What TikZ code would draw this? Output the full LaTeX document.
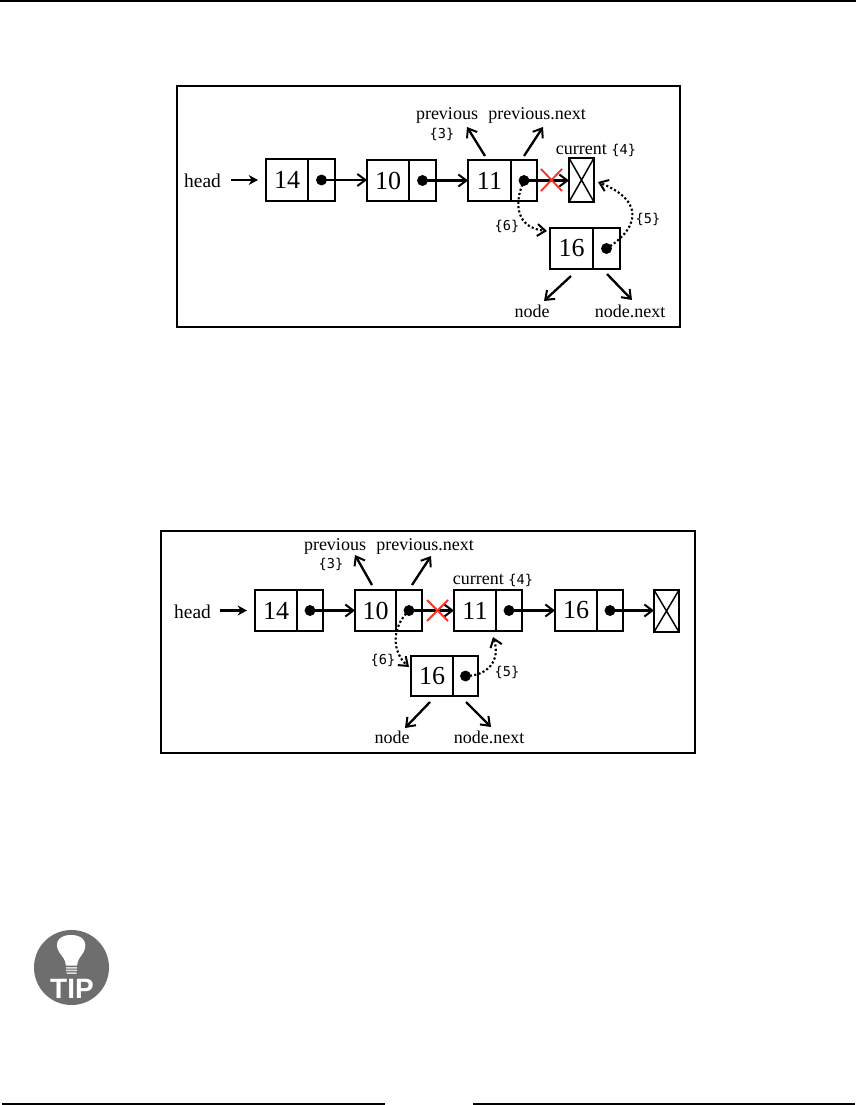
\documentclass[tikz,border=0pt]{standalone}
\usepackage{fontspec}
\setmainfont{Liberation Serif}
\setsansfont{Liberation Sans}
\newfontfamily\codefont{DejaVu Sans Mono}
\usetikzlibrary{arrows.meta}
\definecolor{tipgray}{HTML}{6E6E6E}
\definecolor{crossred}{HTML}{F0352B}
\tikzset{
  x=0.75pt,y=-0.75pt,
  box/.style={draw=black,line width=2.2pt,inner sep=0pt,outer sep=0pt,font=\fontsize{19.5}{20}\selectfont},
  frame/.style={draw=black,line width=1.9pt},
  dotnode/.style={circle,fill=black,inner sep=0pt,minimum size=8.2pt},
  lbl/.style={inner sep=0pt,font=\fontsize{13.5}{15}\selectfont,text height=9pt,text depth=3pt},
  headlbl/.style={inner sep=0pt,font=\fontsize{14.6}{15}\selectfont,text height=10pt,text depth=3pt},
  code/.style={inner sep=0pt,font=\fontsize{10.2}{12}\codefont,text height=8pt,text depth=2pt},
  link/.style={line width=1.75pt,-{Straight Barb[length=6pt,width=9pt,line width=1.5pt]}},
  feed/.style={line width=1.75pt,-{Stealth[length=7pt,width=7.5pt]}},
  loose/.style={line width=1.6pt,dash pattern=on 1.6pt off 1.7pt,-{Straight Barb[length=6pt,width=9pt,line width=1.5pt]}},
  cut/.style={draw=crossred,line width=1.4pt},
  rule/.style={draw=black,line width=1.2pt}
}
\newcommand{\listcell}[7]{%
  \node[box,minimum width={(#3-#2)*0.75pt},minimum height={(#6-#5)*0.75pt}] (#1v) at ({(#2+#3)/2},{(#5+#6)/2}) {#7};
  \node[box,minimum width={(#4-#3)*0.75pt},minimum height={(#6-#5)*0.75pt}] (#1p) at ({(#3+#4)/2},{(#5+#6)/2}) {};
  \node[dotnode] (#1d) at (#1p.center) {};
}
\newcommand{\nullcell}[5]{%
  \node[box,minimum width={(#3-#2)*0.75pt},minimum height={(#5-#4)*0.75pt}] (#1) at ({(#2+#3)/2},{(#4+#5)/2}) {};
  \draw[line width=1.1pt] (#1.north west) -- (#1.south east) (#1.north east) -- (#1.south west);
}
\begin{document}
\begin{tikzpicture}
\useasboundingbox (0,0) rectangle (856,1105);
\fill[white] (0,0) rectangle (856,1105);
\coordinate (tl) at (0,0.8); \coordinate (tr) at (856,0.8);
\draw[rule] (tl) -- (tr);
\coordinate (bla) at (2,1104); \coordinate (blb) at (385,1104);
\coordinate (bra) at (473,1104); \coordinate (brb) at (855,1104);
\draw[rule] (bla) -- (blb);
\draw[rule] (bra) -- (brb);

% ---------- first diagram
\node[frame,minimum width={503*0.75pt},minimum height={241*0.75pt},inner sep=0pt,outer sep=0pt] (frameA) at (428.5,206.5) {};
\listcell{a}{266}{308}{335}{159}{201}{14}
\listcell{b}{367}{409}{436}{160}{201}{10}
\listcell{c}{468}{511}{537}{160}{201}{11}
\listcell{e}{550}{593}{620}{228}{269}{16}
\nullcell{n}{569}{594}{158}{202}
\node[headlbl] (ahead) at (202.5,183) {head};
\node[lbl] (aprev) at (447,116) {previous};
\node[code] (a3) at (442,135) {\{3\}};
\node[lbl] (aprevn) at (537,116) {previous.next};
\node[lbl] (acur) at (596,151) {current {\fontsize{10.2}{12}\codefont\{4\}}};
\node[code] (a6) at (507,227) {\{6\}};
\node[code] (a5) at (648,220) {\{5\}};
\node[lbl] (anode) at (532,313) {node};
\node[lbl] (anoden) at (630,313) {node.next};
\coordinate (ahs) at (231,180);
\draw[feed,shorten >=6pt] (ahs) -- (ahs -| av.west);
\draw[link] (ad.center) -- (ad.center -| bv.west);
\draw[link] (bd.center) -- (bd.center -| cv.west);
\draw[link] (cd.center) -- (cd.center -| n.west);
\coordinate (ax1) at (541,169); \coordinate (ax2) at (562,191);
\coordinate (ax3) at (562,169); \coordinate (ax4) at (541,191);
\draw[cut] (ax1) -- (ax2) (ax3) -- (ax4);
\coordinate (ap1) at (485,156); \coordinate (ap2) at (467,127);
\coordinate (ap3) at (524,156); \coordinate (ap4) at (543,127);
\draw[link] (ap1) -- (ap2);
\draw[link] (ap3) -- (ap4);
\coordinate (an1) at (571,276); \coordinate (an2) at (544,301);
\coordinate (an3) at (607,274); \coordinate (an4) at (632,300);
\draw[link] (an1) -- (an2);
\draw[link] (an3) -- (an4);
\coordinate (al6) at (547,231);
\draw[loose] (cd.center) .. controls (513,205) and (517,228) .. (al6);
\coordinate (al5) at (598,182);
\draw[loose] (ed.center) .. controls (634,232) and (650,203) .. (al5);

% ---------- second diagram
\node[frame,minimum width={534*0.75pt},minimum height={222*0.75pt},inner sep=0pt,outer sep=0pt] (frameB) at (428,642) {};
\listcell{f}{255}{297}{323}{590}{631}{14}
\listcell{g}{355}{396}{422}{590}{631}{10}
\listcell{h}{454}{496}{522}{590}{631}{11}
\listcell{i}{555}{597}{623}{590}{631}{16}
\listcell{j}{411}{453}{478}{656}{696}{16}
\nullcell{m}{654}{679}{590}{632}
\node[headlbl] (bhead) at (192.5,613.5) {head};
\node[lbl] (bprev) at (335,546) {previous};
\node[code] (b3) at (331,564.5) {\{3\}};
\node[lbl] (bprevn) at (425,546) {previous.next};
\node[lbl] (bcur) at (493,580) {current {\fontsize{10.2}{12}\codefont\{4\}}};
\node[code] (b6) at (383,660) {\{6\}};
\node[code] (b5) at (507,672) {\{5\}};
\node[lbl] (bnode) at (392,739) {node};
\node[lbl] (bnoden) at (489,739) {node.next};
\coordinate (bhs) at (220,610.5);
\draw[feed,shorten >=6pt] (bhs) -- (bhs -| fv.west);
\draw[link] (fd.center) -- (fd.center -| gv.west);
\draw[link] (gd.center) -- (gd.center -| hv.west);
\draw[link] (hd.center) -- (hd.center -| iv.west);
\draw[link] (id.center) -- (id.center -| m.west);
\coordinate (bx1) at (427,600); \coordinate (bx2) at (448,621);
\coordinate (bx3) at (448,600); \coordinate (bx4) at (427,621);
\draw[cut] (bx1) -- (bx2) (bx3) -- (bx4);
\coordinate (bp1) at (372,585); \coordinate (bp2) at (355,555);
\coordinate (bp3) at (412,585); \coordinate (bp4) at (431,556);
\draw[link] (bp1) -- (bp2);
\draw[link] (bp3) -- (bp4);
\coordinate (bn1) at (430,702); \coordinate (bn2) at (405,728);
\coordinate (bn3) at (466,702); \coordinate (bn4) at (491,727);
\draw[link] (bn1) -- (bn2);
\draw[link] (bn3) -- (bn4);
\coordinate (bl6) at (409,667);
\draw[loose] (gd.center) .. controls (391,628) and (392,652) .. (bl6);
\coordinate (bl5) at (493,637);
\draw[loose] (jd.center) .. controls (488,676) and (501,660) .. (bl5);

% ---------- tip icon
\fill[tipgray] (71.5,967.5) circle[radius=37.5];
\fill[white] (62,956) .. controls (53,946) and (56,935) .. (71,935) .. controls (86,935) and (89,946) .. (81,956) .. controls (78,960) and (77.5,962) .. (77,965.5) -- (66,965.5) .. controls (65.5,962) and (65,960) .. (62,956) -- cycle;
\fill[white!88!black] (66,967) rectangle (77,968.5) (66,969.7) rectangle (77,971.2) (66.5,972.4) rectangle (76.5,973.9);
\node[inner sep=0pt,text=white] (tip) at (72,988.5) {\fontsize{21}{21}\selectfont\sffamily\bfseries TIP};
\end{tikzpicture}
\end{document}
